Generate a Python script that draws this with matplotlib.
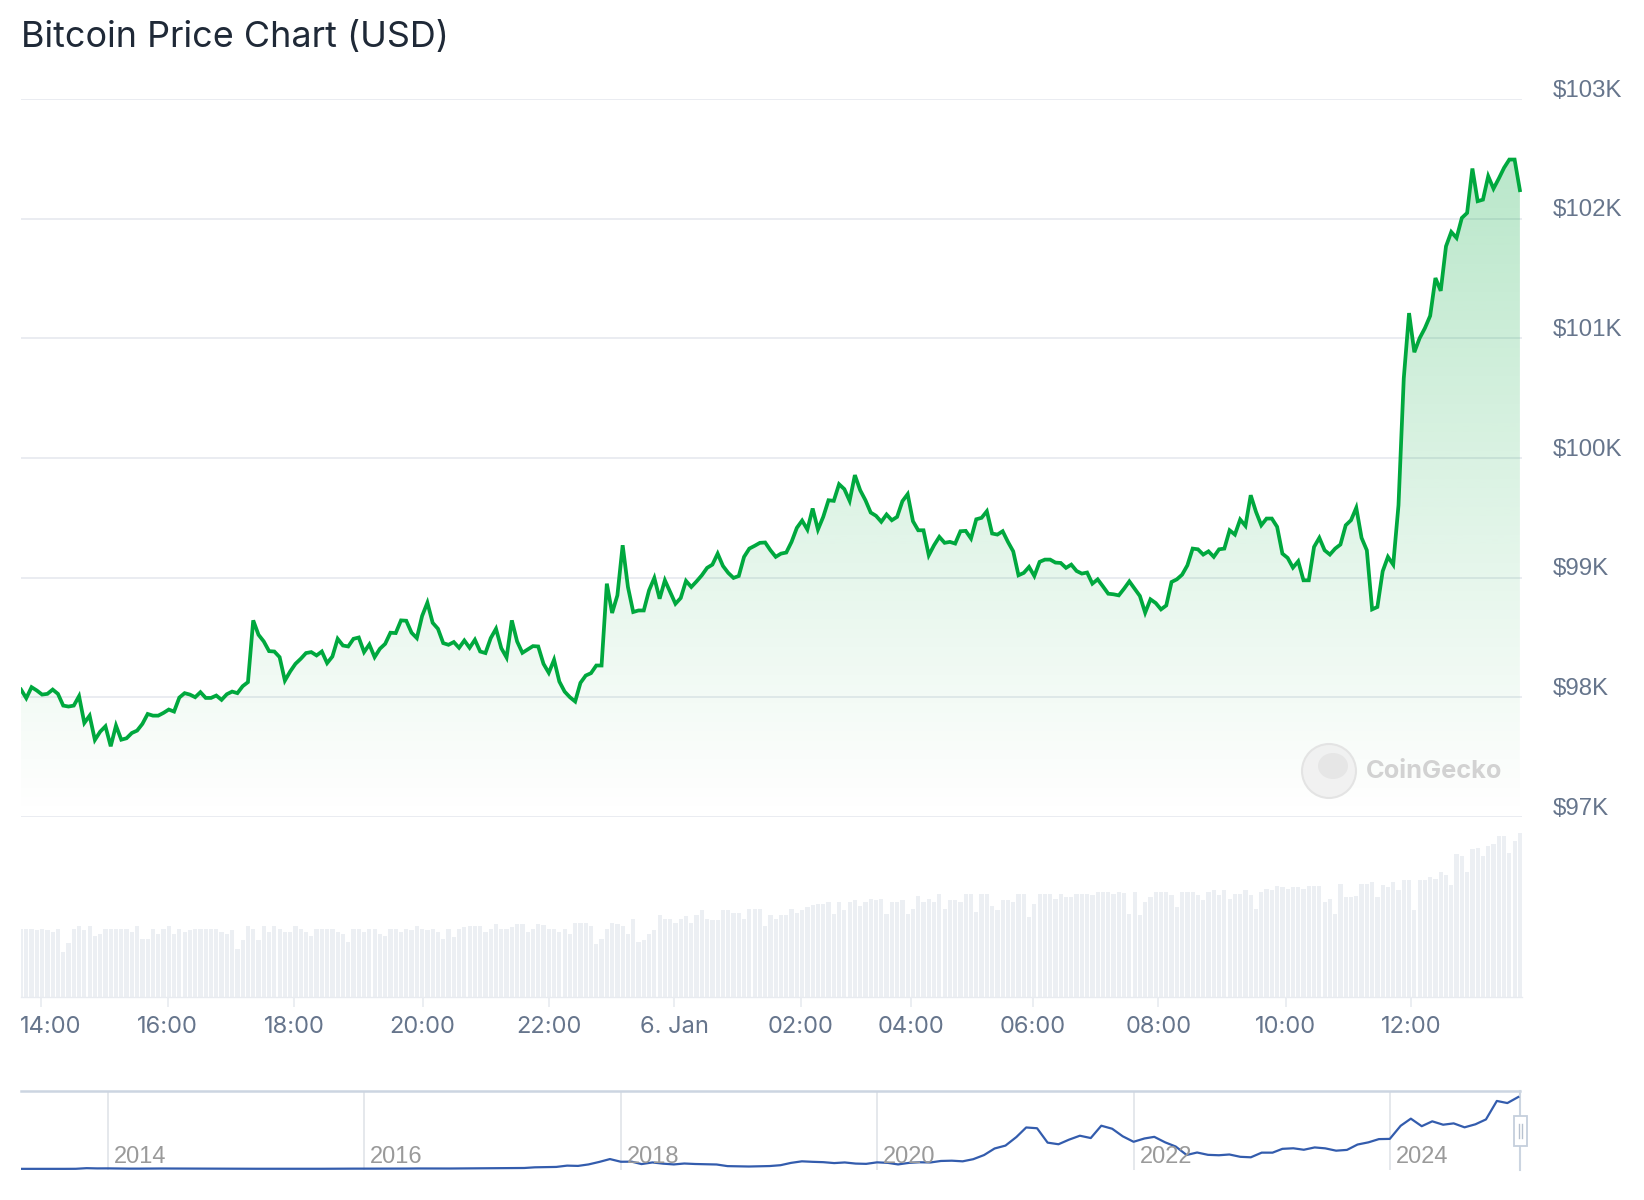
import numpy as np
import pandas as pd
import matplotlib
matplotlib.use("Agg")
import matplotlib.pyplot as plt
from matplotlib.transforms import ScaledTranslation, blended_transform_factory
from matplotlib.patches import Ellipse, Rectangle

# ---- 5-minute BTC price, 5 Jan 13:45 -> 6 Jan 13:50 (ordinal points) ----
price = [
    98065, 97993, 98085, 98057, 98023, 98029, 98065, 98029, 97931, 97923,
    97931, 98010, 97786, 97847, 97644, 97713, 97758, 97591, 97764, 97646,
    97658, 97702, 97722, 97778, 97861, 97847, 97847, 97870, 97898, 97881,
    97998, 98035, 98023, 98001, 98043, 97995, 97995, 98015, 97979, 98026,
    98048, 98035, 98093, 98127, 98643, 98523, 98467, 98386, 98383, 98336,
    98140, 98216, 98280, 98322, 98370, 98378, 98350, 98383,
    98286, 98341, 98489, 98433, 98425, 98489, 98500, 98378, 98442, 98336,
    98406, 98447, 98540, 98537, 98643, 98640, 98540, 98495, 98680, 98791,
    98623, 98573, 98453, 98439, 98462, 98414, 98475, 98414, 98481, 98383,
    98370, 98495, 98573, 98411, 98333, 98643, 98467, 98372, 98400, 98428,
    98425, 98280, 98205, 98314, 98132, 98048, 98001, 97965, 98121, 98182,
    98202, 98266, 98266, 98950, 98705, 98852, 99271,
    98922, 98713, 98726, 98726, 98894, 98998, 98824, 98978, 98880, 98782,
    98830, 98973, 98922, 98969, 99020, 99082, 99109, 99201, 99098, 99040,
    98998, 99014, 99174, 99243, 99266, 99291, 99294, 99229, 99174, 99201,
    99210, 99299, 99416, 99477, 99402, 99578, 99402, 99508, 99647, 99642,
    99781, 99740, 99642, 99857, 99731, 99647, 99544, 99517, 99467, 99528,
    99480, 99508, 99639, 99698, 99472, 99396, 99396,
    99187, 99271, 99341, 99291, 99299, 99285, 99388, 99391, 99327, 99488,
    99500, 99555, 99369, 99360, 99388, 99299, 99220, 99020, 99040, 99090,
    99014, 99132, 99151, 99151, 99126, 99123, 99082, 99109, 99056, 99034,
    99043, 98950, 98986, 98927, 98866, 98861, 98852, 98908, 98969, 98908,
    98847, 98707, 98819, 98788, 98735, 98768, 98964, 98986, 99025, 99103,
    99243, 99237, 99193, 99220, 99174, 99237, 99243,
    99396, 99360, 99486, 99433, 99689, 99550, 99438, 99494, 99494, 99425,
    99201, 99165, 99084, 99137, 98978, 98978, 99257, 99333, 99229, 99193,
    99243, 99277, 99438, 99480, 99584, 99333, 99229, 98735, 98755, 99053,
    99174, 99109, 99606, 100666, 101211, 100884, 101001, 101085, 101188, 101504,
    101397, 101769, 101889, 101839, 102006, 102048, 102419, 102146, 102159, 102355,
    102251, 102335, 102425, 102494, 102494, 102238,
]

# volume per 5-minute point (relative units)
volume = [
    68, 68, 68, 67, 68, 67, 65, 68, 45, 54,
    68, 71, 67, 71, 61, 63, 68, 68, 68, 68,
    68, 65, 71, 58, 58, 68, 63, 68, 71, 63,
    68, 65, 67, 68, 68, 68, 68, 68, 65, 63,
    67, 48, 57, 71, 68, 57, 71, 65, 71, 68,
    65, 65, 71, 68, 65, 61, 68, 68, 68, 68,
    65, 63, 55, 68, 68, 65, 68, 68, 63, 61,
    68, 68, 65, 68, 67, 71, 68, 67, 68, 65,
    58, 68, 60, 68, 70, 71, 71, 71, 65, 68,
    73, 68, 68, 70, 73, 73, 65, 68, 73, 72,
    68, 68, 65, 68, 63, 74, 74, 74, 71, 53,
    58, 68, 74, 73, 71, 63, 78, 55, 57, 63,
    67, 82, 78, 78, 74, 78, 81, 74, 82, 87,
    78, 77, 77, 87, 87, 84, 84, 78, 88, 88,
    88, 71, 82, 78, 82, 82, 88,
    84, 87, 90, 92, 93, 93, 95, 83, 95, 87,
    95, 97, 91, 95, 98, 97, 98, 83, 95, 95,
    97, 83, 88, 101, 95, 98, 95, 103, 88, 97,
    97, 95, 103, 103, 85, 103, 103, 91, 87, 97,
    97, 95, 103, 103, 80, 93, 103, 103, 103, 98,
    103, 100, 100, 103, 103, 103, 102, 105, 105, 105,
    103, 105, 104, 83, 105, 82, 95, 100, 105, 105,
    105, 102, 90, 105, 105, 105, 102, 97, 105, 107,
    102, 107, 98, 103, 103, 107, 102, 88, 105, 108,
    107, 111, 110, 108, 110, 110, 108, 111, 111, 111,
    95, 98, 83, 113, 100, 100, 101, 113, 113, 115,
    100, 112, 110, 115, 107, 117, 117, 87, 117, 117,
    120, 118, 125, 122, 112, 142, 140, 125, 147, 148,
    140, 150, 152, 160, 160, 143, 155, 163,
]

tick_pos = [3.8, 27.8, 51.8, 76.1, 100.1, 123.8, 147.8, 168.6, 191.7, 215.5, 239.6, 263.4]
tick_labels = ["14:00", "16:00", "18:00", "20:00", "22:00", "6. Jan",
               "02:00", "04:00", "06:00", "08:00", "10:00", "12:00"]
price_ticks = [97000, 98000, 99000, 100000, 101000, 102000, 103000]

# navigator: monthly BTC price, May 2013 -> Jan 2025
nav_prices = [
    130, 100, 100, 130, 130, 200, 1100, 750,
    800, 600, 450, 450, 620, 640, 580, 480, 390, 340, 380, 320,
    220, 250, 250, 235, 230, 260, 285, 230, 235, 310, 380, 430,
    370, 435, 415, 450, 530, 670, 625, 575, 610, 700, 745, 960,
    970, 1190, 1080, 1350, 2300, 2500, 2850, 4700, 4300, 6400, 10000, 14000,
    10200, 10300, 6900, 9200, 7500, 6400, 7700, 7000, 6600, 6300, 4000, 3700,
    3450, 3800, 4100, 5300, 8600, 10800, 10100, 9600, 8300, 9200, 7600, 7200,
    9350, 8600, 6400, 8600, 9450, 9150, 11300, 11700, 10800, 13800, 19700, 29000,
    33100, 45200, 58800, 57700, 37300, 35000, 41500, 47100, 43800, 61300, 57000, 46300,
    38500, 43200, 45500, 37700, 31800, 19800, 23300, 20000, 19400, 20500, 17200, 16500,
    23100, 23100, 28500, 29300, 27200, 30500, 29200, 25900, 27000, 34600, 37700, 42300,
    42600, 61200, 71300, 60600, 67500, 62700, 64600, 59000, 63300, 70200, 96400, 93400,
    102000,
]
nav_years = [2014, 2016, 2018, 2020, 2022, 2024]

W, H = 1644, 1200
fig = plt.figure(figsize=(W / 100, H / 100), dpi=100)


def box(x0, y0, x1, y1):
    return [x0 / W, 1 - y1 / H, (x1 - x0) / W, (y1 - y0) / H]


green = "#00a83e"
grid_c = "#e8ebf0"
label_c = "#66758c"

# ---- price panel ----
ax = fig.add_axes(box(21, 99, 1522, 817))
x = np.arange(len(price))
xmax = len(price) - 1 + 0.4

poly = ax.fill_between(x, price, 97000, color="none", lw=0)
rgba = np.zeros((256, 1, 4))
rgba[..., 1] = 168 / 255
rgba[..., 2] = 62 / 255
rgba[..., 3] = np.linspace(0.30, 0.0, 256).reshape(-1, 1)
im = ax.imshow(rgba, extent=[0, xmax, 97000, 103000], origin="upper",
               aspect="auto", zorder=1, interpolation="bilinear")
im.set_clip_path(poly.get_paths()[0], transform=ax.transData)
ax.plot(x, price, color=green, lw=2.7, zorder=3, solid_joinstyle="miter")

ax.set_xlim(0, xmax)
ax.set_ylim(97000, 103000)
ax.set_xticks([])
ax.set_yticks(price_ticks)
ax.set_yticklabels([f"${v // 1000}K" for v in price_ticks])
ax.yaxis.tick_right()
ax.tick_params(axis="y", length=0, pad=22, labelsize=17.3, labelcolor=label_c)
for lab in ax.get_yticklabels():
    lab.set_fontfamily("Liberation Sans")
    lab.set_transform(lab.get_transform() + ScaledTranslation(0, 11 / 100, fig.dpi_scale_trans))
ax.grid(axis="y", color=grid_c, lw=1.3, zorder=0)
for s in ax.spines.values():
    s.set_visible(False)
ax.set_axisbelow(True)

# watermark
fig.add_artist(Ellipse((1329 / W, 1 - 771 / H), 54 / W, 54 / H,
                       facecolor="#f0f0f0", edgecolor="#e2e2e2", lw=1.5, alpha=0.9))
fig.add_artist(Ellipse((1333 / W, 1 - 766 / H), 30 / W, 26 / H,
                       facecolor="#e6e6e6", edgecolor="none"))
fig.text(1366 / W, 1 - 771 / H, "CoinGecko", fontsize=18.3, color="#d2d2d2",
         fontweight="bold", family="Inter", va="center", ha="left")

# ---- volume panel ----
axv = fig.add_axes(box(21, 817, 1522, 997))
axv.bar(x, volume, width=0.8, color="#eceff3", lw=0)
axv.set_xlim(0, xmax)
axv.set_ylim(0, max(volume) * 1.1)
axv.set_yticks([])
axv.set_xticks(tick_pos)
axv.set_xticklabels(tick_labels)
axv.tick_params(axis="x", length=7, width=1.2, color=grid_c, pad=7,
                labelsize=17, labelcolor=label_c)
for lab in axv.get_xticklabels():
    lab.set_fontfamily("Inter")
first = axv.get_xticklabels()[0]
first.set_transform(first.get_transform() + ScaledTranslation(10 / 100, 0, fig.dpi_scale_trans))
for s in ["top", "left", "right"]:
    axv.spines[s].set_visible(False)
axv.spines["bottom"].set_color(grid_c)
axv.spines["bottom"].set_linewidth(1.0)

# ---- navigator ----
axn = fig.add_axes(box(21, 1091, 1520, 1170))
nav_dates = pd.date_range("2013-05-01", periods=len(nav_prices), freq="MS")
axn.plot(nav_dates, nav_prices, color="#335cad", lw=1.6, zorder=3)
axn.set_xlim(pd.Timestamp("2013-04-28"), pd.Timestamp("2025-01-06"))
axn.set_ylim(-1500, 110500)
axn.set_xticks([])
axn.set_yticks([])
trans = blended_transform_factory(axn.transData, axn.transAxes)
for yr in nav_years:
    d = pd.Timestamp(f"{yr}-01-01")
    axn.axvline(d, color="#e3e6ea", lw=1.3, zorder=1)
    axn.text(d, 0.17, str(yr), transform=trans + ScaledTranslation(6 / 100, 0, fig.dpi_scale_trans),
             fontsize=17, color="#9a9a9a", family="Liberation Sans", va="center", ha="left")
for s in ["bottom", "left"]:
    axn.spines[s].set_visible(False)
axn.spines["top"].set_color("#ccd5e1")
axn.spines["top"].set_linewidth(1.8)
axn.spines["right"].set_color("#ccd5e1")
axn.spines["right"].set_linewidth(1.5)

# navigator handle
fig.add_artist(Rectangle((1514 / W, 1 - 1146 / H), 13 / W, 30 / H,
                         facecolor="white", edgecolor="#c5cfdc", lw=1.3))
for hx in (1519, 1522):
    fig.add_artist(plt.Line2D([hx / W, hx / W], [1 - 1124 / H, 1 - 1138 / H],
                              color="#b8c2d0", lw=1.0))

# title
fig.text(21 / W, 1 - 47 / H, "Bitcoin Price Chart (USD)", fontsize=25.9,
         color="#1f2937", family="Inter", va="baseline", ha="left")

fig.savefig("out.png", dpi=100, facecolor="white")
